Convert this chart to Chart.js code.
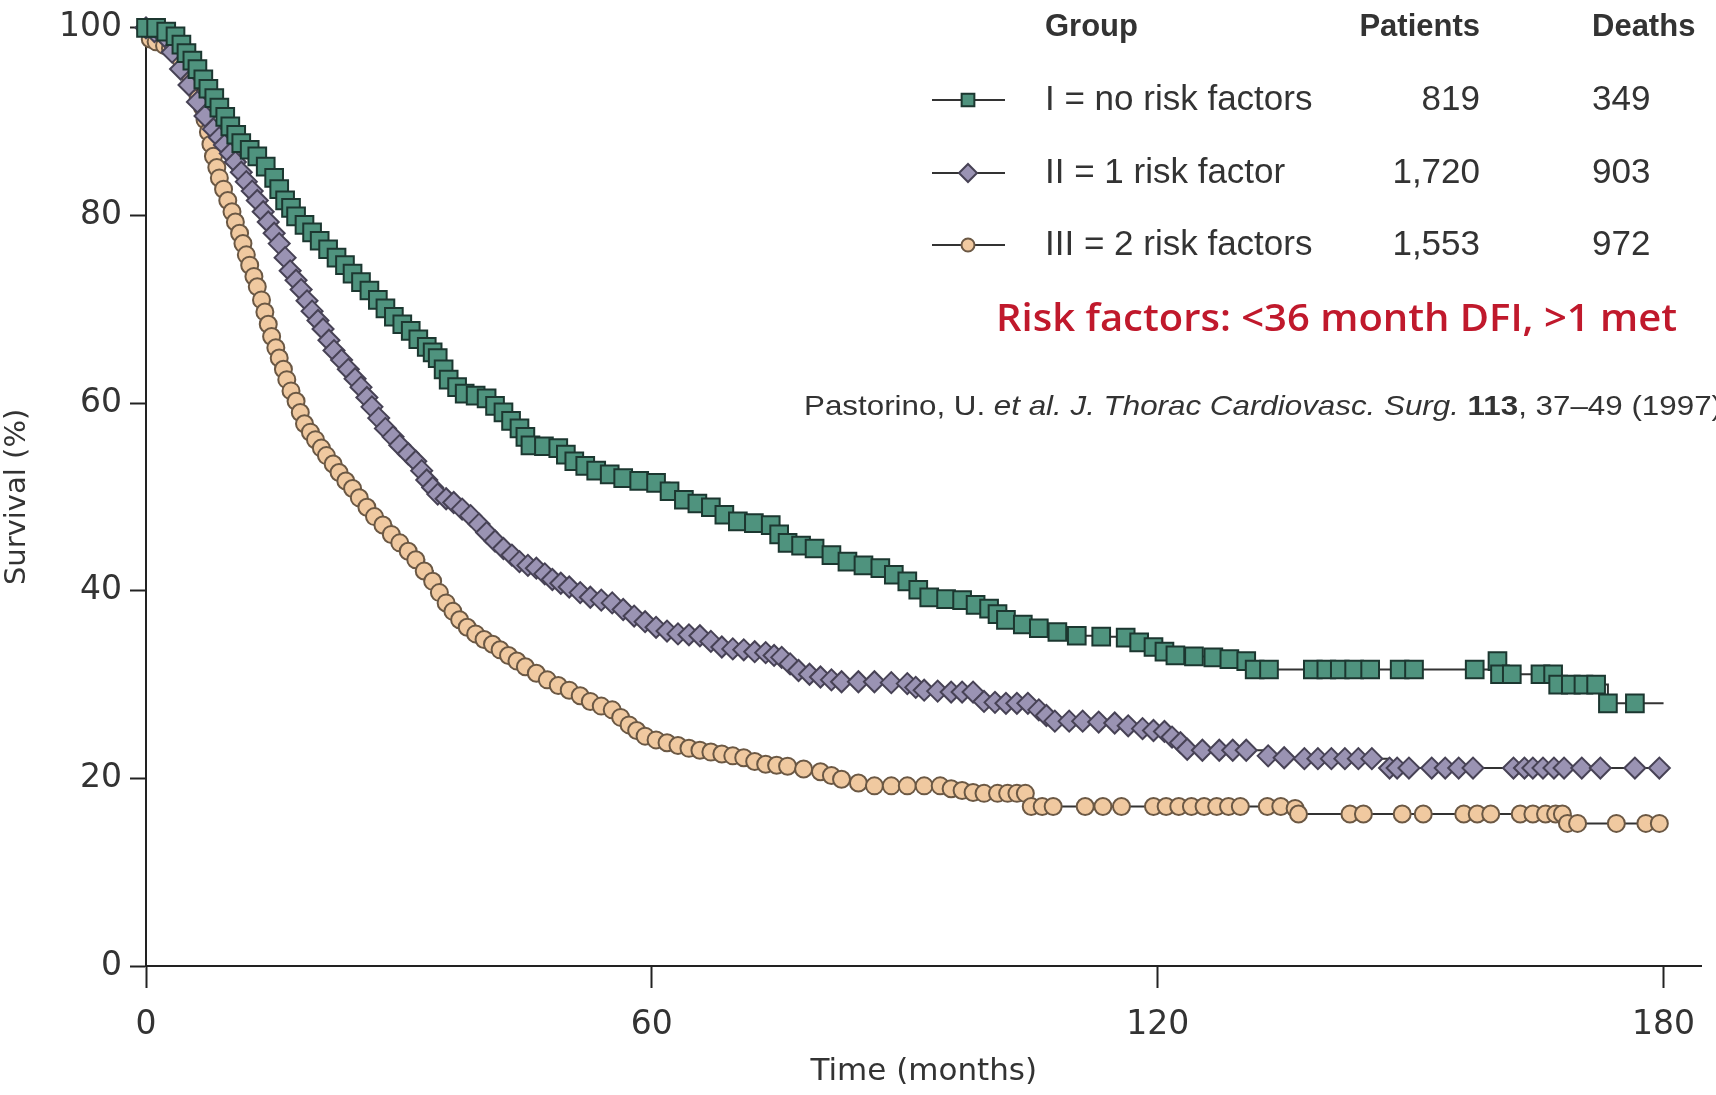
<!DOCTYPE html>
<html>
<head>
<meta charset="utf-8">
<title>Survival by risk group</title>
<script src="https://cdn.jsdelivr.net/npm/chart.js@4.4.1/dist/chart.umd.min.js"></script>
<style>
  html, body { margin: 0; padding: 0; background: #fff; }
  #chart { display: block; }
</style>
</head>
<body>
<canvas id="chart" width="1716" height="1095"></canvas>
<script>
// axis ticks
const xTicks = [0, 60, 120, 180];
const yTicks = [0, 20, 40, 60, 80, 100];

// legend table
const groupLabels = ['I = no risk factors', 'II = 1 risk factor', 'III = 2 risk factors'];
const patients = ['819', '1,720', '1,553'];
const deaths = ['349', '903', '972'];

// group I (no risk factors) - months / survival %
const monthsI = [0, 1.2, 2.4, 3.5, 4.2, 4.8, 5.5, 6.1, 6.8, 7.4, 8.1, 8.7, 9.4, 10.0, 10.7, 11.3, 12.3, 13.2, 14.2, 15.2,
  15.8, 16.5, 17.2, 17.8, 18.8, 19.7, 20.6, 21.6, 22.6, 23.6, 24.5, 25.5, 26.5, 27.5, 28.4, 29.4, 30.4, 31.4, 32.3, 33.3,
  34.0, 34.6, 35.3, 35.9, 36.9, 37.8, 39.1, 40.4, 41.4, 42.4, 43.3, 44.3, 45.0, 45.6, 47.2, 48.9, 49.8, 50.8, 52.1, 53.4,
  55.0, 56.6, 58.5, 60.5, 62.1, 63.8, 65.4, 67.0, 68.6, 70.2, 72.1, 74.1, 75.1, 76.1, 77.7, 79.3, 81.3, 83.2, 85.1, 87.1,
  88.7, 90.3, 91.6, 92.9, 94.9, 96.8, 98.4, 100.0, 101.0, 102.0, 104.0, 105.9, 108.1, 110.4, 113.3, 116.2, 117.8, 119.5,
  120.8, 122.1, 124.3, 126.6, 128.5, 130.5, 131.5, 133.2, 138.4, 140.0, 141.6, 143.3, 145.2, 148.7, 150.4, 157.6, 160.3,
  160.6, 162.0, 165.4, 166.9, 167.5, 169.0, 170.5, 172.0, 173.4, 176.6, 180];
const survivalI = [100, 100, 99.6, 99.1, 98.2, 97.3, 96.5, 95.6, 94.5, 93.5, 92.5, 91.5, 90.5, 89.5, 88.6, 87.7, 87.0, 86.3, 85.2, 84.0,
  82.8, 81.6, 80.8, 79.9, 79.0, 78.2, 77.3, 76.4, 75.5, 74.7, 73.8, 72.9, 72.0, 71.0, 70.1, 69.2, 68.4, 67.7, 66.8, 66.0,
  65.4, 64.8, 63.6, 62.5, 61.7, 61.0, 60.8, 60.5, 59.7, 59.0, 58.1, 57.3, 56.4, 55.5, 55.4, 55.2, 54.5, 53.8, 53.3, 52.8,
  52.4, 52.0, 51.7, 51.5, 50.6, 49.7, 49.3, 48.9, 48.1, 47.4, 47.2, 47.0, 46.0, 45.1, 44.8, 44.5, 43.8, 43.1, 42.7, 42.4,
  41.7, 41.0, 40.1, 39.3, 39.1, 39.0, 38.5, 38.1, 37.5, 36.9, 36.4, 36.0, 35.6, 35.2, 35.1, 35.0, 34.5, 34.0,
  33.5, 33.1, 33.0, 32.9, 32.7, 32.5, 31.6, 31.6, 31.6, 31.6, 31.6, 31.6, 31.6, 31.6, 31.6, 31.6, 32.5,
  31.1, 31.1, 31.1, 31.1, 30.0, 30.0, 30.0, 30.0, 28.0, 28.0, 28.0];

// group II (1 risk factor)
const monthsII = [0, 1.0, 2.2, 3.1, 4.1, 5.1, 6.1, 7.0, 8.0, 8.7, 9.3, 10.0, 10.6, 11.3, 11.9, 12.6, 13.2, 13.9, 14.5, 15.2,
  15.8, 16.5, 17.1, 17.8, 18.4, 19.1, 19.7, 20.4, 21.0, 21.7, 22.3, 23.2, 24.0, 24.8, 25.5, 26.2, 26.8, 27.6, 28.4, 29.3,
  30.1, 31.1, 32.0, 32.7, 33.3, 34.0, 34.6, 35.6, 36.5, 37.5, 38.5, 39.5, 40.4, 41.4, 42.4, 43.4, 44.3, 45.3, 46.3, 47.3,
  48.2, 49.2, 50.2, 51.5, 52.7, 54.0, 55.3, 56.6, 57.9, 59.2, 60.5, 61.8, 63.1, 64.4, 65.7, 67.0, 68.3, 69.6, 70.9, 72.2,
  73.5, 74.5, 75.4, 76.4, 77.4, 78.7, 80.0, 81.3, 82.5, 84.5, 86.4, 88.4, 90.3, 91.3, 92.3, 93.9, 95.5, 96.8, 98.1, 99.4,
  100.7, 102.0, 103.3, 104.6, 105.9, 106.8, 107.8, 109.5, 111.1, 113.0, 114.9, 116.5, 118.2, 119.5, 120.8, 121.7, 122.7,
  123.5, 125.3, 127.3, 128.9, 130.5, 133.1, 135.0, 137.4, 139.0, 140.6, 142.2, 143.8, 145.4, 147.5, 148.4, 149.8, 152.5,
  154.1, 155.7, 157.4, 162.2, 163.5, 164.5, 165.7, 167.0, 168.2, 170.3, 172.5, 176.6, 179.5];
const survivalII = [100, 99.6, 99.1, 97.4, 95.6, 93.9, 92.1, 90.6, 89.2, 88.3, 87.5, 86.6, 85.7, 84.6, 83.6, 82.6, 81.6, 80.4, 79.3, 78.1,
  77.0, 75.5, 74.1, 73.1, 72.1, 70.9, 69.8, 68.8, 67.9, 66.7, 65.6, 64.6, 63.6, 62.6, 61.7, 60.6, 59.6, 58.4, 57.3, 56.4,
  55.5, 54.6, 53.8, 52.8, 51.8, 51.0, 50.3, 49.8, 49.4, 48.7, 48.0, 47.1, 46.2, 45.3, 44.5, 43.8, 43.1, 42.7, 42.4, 41.8,
  41.2, 40.8, 40.4, 39.8, 39.3, 39.0, 38.7, 38.0, 37.3, 36.7, 36.1, 35.7, 35.4, 35.3, 35.2, 34.6, 34.0, 33.8, 33.7, 33.5,
  33.4, 33.1, 32.9, 32.2, 31.5, 31.1, 30.8, 30.5, 30.3, 30.3, 30.3, 30.2, 30.1, 29.7, 29.4, 29.3, 29.2, 29.2, 29.2, 28.2,
  28.1, 28.0, 28.0, 28.0, 27.3, 26.7, 26.1, 26.1, 26.1, 26.0, 25.9, 25.6, 25.3, 25.1, 25.0, 24.4, 23.8,
  23.1, 23.0, 23.0, 23.0, 23.0, 22.4, 22.2, 22.1, 22.1, 22.1, 22.1, 22.1, 22.1, 21.1, 21.1, 21.1, 21.1,
  21.1, 21.1, 21.1, 21.1, 21.1, 21.1, 21.1, 21.1, 21.1, 21.1, 21.1, 21.1, 21.1];

// group III (2 risk factors)
const monthsIII = [0, 0.5, 1.2, 2.2, 2.9, 3.5, 4.2, 4.8, 5.3, 5.8, 6.2, 6.7, 7.0, 7.4, 7.7, 8.0, 8.4, 8.7, 9.2, 9.7,
  10.2, 10.6, 11.1, 11.5, 11.9, 12.3, 12.8, 13.2, 13.7, 14.1, 14.5, 14.9, 15.4, 15.8, 16.3, 16.7, 17.2, 17.8, 18.3, 18.8,
  19.5, 20.1, 20.8, 21.4, 22.2, 22.9, 23.7, 24.5, 25.3, 26.2, 27.1, 28.1, 29.1, 30.1, 31.1, 32.0, 33.0, 34.0, 34.8, 35.6,
  36.4, 37.2, 38.1, 39.1, 40.1, 41.1, 42.0, 43.0, 44.0, 45.0, 46.3, 47.6, 48.9, 50.2, 51.5, 52.7, 54.0, 55.3, 56.3, 57.3,
  58.2, 59.2, 60.5, 61.8, 63.1, 64.4, 65.7, 67.0, 68.3, 69.6, 70.9, 72.2, 73.5, 74.8, 76.1, 78.0, 80.0, 81.3, 82.5, 84.5,
  86.4, 88.4, 90.3, 92.3, 94.2, 95.5, 96.8, 98.1, 99.4, 101.0, 102.2, 103.3, 104.3, 105.0, 106.3, 107.6, 111.4, 113.5,
  115.7, 119.5, 121.0, 122.5, 124.0, 125.5, 127.0, 128.4, 129.8, 133.0, 134.6, 136.3, 136.7, 142.8, 144.4, 149.0, 151.5,
  156.3, 157.9, 159.5, 163.0, 164.5, 166.0, 167.2, 168.0, 168.6, 169.8, 174.4, 177.9, 179.5];
const survivalIII = [100, 98.8, 98.5, 98.1, 97.8, 97.3, 96.5, 95.6, 94.6, 93.5, 92.5, 91.5, 90.2, 88.9, 87.6, 86.3, 85.1, 84.0, 82.8, 81.6,
  80.4, 79.3, 78.1, 77.0, 75.8, 74.7, 73.5, 72.4, 71.0, 69.7, 68.4, 67.1, 65.9, 64.8, 63.6, 62.5, 61.3, 60.2, 59.0, 57.8,
  56.9, 56.1, 55.2, 54.4, 53.5, 52.6, 51.7, 50.9, 49.9, 48.9, 47.9, 47.0, 46.0, 45.1, 44.2, 43.3, 42.1, 41.0, 39.8, 38.7,
  37.8, 36.9, 36.1, 35.4, 34.8, 34.3, 33.7, 33.1, 32.5, 31.9, 31.2, 30.5, 29.9, 29.4, 28.8, 28.2, 27.7, 27.3, 26.5, 25.7,
  25.1, 24.5, 24.1, 23.8, 23.5, 23.2, 23.0, 22.8, 22.6, 22.4, 22.2, 21.8, 21.5, 21.4, 21.3, 21.0, 20.7, 20.3, 19.9, 19.5,
  19.2, 19.2, 19.2, 19.2, 19.2, 18.9, 18.7, 18.5, 18.4, 18.4, 18.4, 18.4, 18.4, 17.0, 17.0, 17.0, 17.0, 17.0,
  17.0, 17.0, 17.0, 17.0, 17.0, 17.0, 17.0, 17.0, 17.0, 17.0, 17.0, 16.8, 16.2, 16.2, 16.2, 16.2, 16.2,
  16.2, 16.2, 16.2, 16.2, 16.2, 16.2, 16.2, 16.2, 15.2, 15.2, 15.2, 15.2, 15.2];

const toPoints = (xs, ys) => xs.map((x, i) => ({ x: x, y: ys[i] }));

const styles = [
  { pointStyle: 'rect', radius: 12.5, legendRadius: 9, fill: '#4f937e', border: '#1c3730' },
  { pointStyle: 'rectRot', radius: 10.5, legendRadius: 9, fill: '#9a93b3', border: '#474255' },
  { pointStyle: 'circle', radius: 8.5, legendRadius: 6.5, fill: '#f0c9a0', border: '#6b5844' }
];

Chart.defaults.font.family = '"DejaVu Sans", sans-serif';
Chart.defaults.color = '#333';

// table legend, red note and citation
const annotations = {
  id: 'annotations',
  afterDraw(chart) {
    const ctx = chart.ctx;
    ctx.save();
    ctx.textBaseline = 'middle';
    ctx.fillStyle = '#333';

    ctx.font = 'bold 31px "Liberation Sans"';
    ctx.textAlign = 'left';
    ctx.fillText('Group', 1045, 27);
    ctx.textAlign = 'right';
    ctx.fillText('Patients', 1480, 27);
    ctx.textAlign = 'left';
    ctx.fillText('Deaths', 1592, 27);

    const rowsY = [100, 173, 245];
    ctx.font = '35px "Liberation Sans"';
    groupLabels.forEach((g, i) => {
      const y = rowsY[i];
      const s = styles[i];
      ctx.strokeStyle = '#333';
      ctx.lineWidth = 2;
      ctx.beginPath();
      ctx.moveTo(932, y);
      ctx.lineTo(1005, y);
      ctx.stroke();
      ctx.fillStyle = s.fill;
      ctx.strokeStyle = s.border;
      ctx.lineWidth = 2;
      Chart.helpers.drawPoint(ctx, { pointStyle: s.pointStyle, radius: s.legendRadius, rotation: 0, borderWidth: 2 }, 968, y);

      ctx.fillStyle = '#333';
      ctx.textAlign = 'left';
      ctx.fillText(g, 1045, y);
      ctx.textAlign = 'right';
      ctx.fillText(patients[i], 1480, y);
      ctx.textAlign = 'left';
      ctx.fillText(deaths[i], 1592, y);
    });

    // red note
    ctx.fillStyle = '#c0192c';
    ctx.font = '600 38px "Open Sans"';
    ctx.textAlign = 'left';
    const note = 'Risk factors: <36 month DFI, >1 met';
    const nw = ctx.measureText(note).width;
    ctx.save();
    ctx.translate(996, 320);
    ctx.scale(681 / nw, 1);
    ctx.fillText(note, 0, 0);
    ctx.restore();

    // citation (runs off the right edge like the source)
    const parts = [
      ['Pastorino, U. ', '28px "Liberation Sans"'],
      ['et al. J. Thorac Cardiovasc. Surg. ', 'italic 28px "Liberation Sans"'],
      ['113', 'bold 28px "Liberation Sans"'],
      [', 37\u201349 (1997)', '28px "Liberation Sans"']
    ];
    let total = 0;
    parts.forEach(p => { ctx.font = p[1]; total += ctx.measureText(p[0]).width; });
    const k = 918 / total;
    ctx.save();
    ctx.translate(804, 407);
    ctx.scale(k, 1);
    ctx.fillStyle = '#333';
    let cx = 0;
    parts.forEach(p => {
      ctx.font = p[1];
      ctx.fillText(p[0], cx, 0);
      cx += ctx.measureText(p[0]).width;
    });
    ctx.restore();
    ctx.restore();
  }
};

const datasets = [
  { label: groupLabels[0], xs: monthsI, ys: survivalI },
  { label: groupLabels[1], xs: monthsII, ys: survivalII },
  { label: groupLabels[2], xs: monthsIII, ys: survivalIII }
].map((d, i) => ({
  label: d.label,
  data: toPoints(d.xs, d.ys),
  stepped: true,
  borderColor: '#333',
  borderWidth: 2,
  pointStyle: styles[i].pointStyle,
  pointRadius: c => (i === 0 && c.dataIndex === d.xs.length - 1) ? 0 : styles[i].radius,
  pointBackgroundColor: styles[i].fill,
  pointBorderColor: styles[i].border,
  pointBorderWidth: 2,
  clip: false,
  fill: false
}));

new Chart(document.getElementById('chart').getContext('2d'), {
  type: 'line',
  data: { datasets: datasets },
  options: {
    responsive: false,
    animation: false,
    devicePixelRatio: 1,
    layout: { padding: { top: 24, right: 12, left: 0, bottom: 0 } },
    plugins: { legend: { display: false }, tooltip: { enabled: false } },
    scales: {
      x: {
        type: 'linear',
        min: 0,
        max: 184.5,
        afterBuildTicks: axis => { axis.ticks = xTicks.map(v => ({ value: v })); },
        afterFit: scale => { scale.height = 129; },
        border: { color: '#222', width: 2 },
        grid: { drawOnChartArea: false, tickLength: 22, tickColor: '#222', tickWidth: 2 },
        ticks: { font: { size: 33 }, color: '#333', padding: 18, maxRotation: 0 },
        title: { display: true, text: 'Time (months)', font: { size: 31 }, color: '#333', padding: { top: 4 } }
      },
      y: {
        min: 0,
        max: 100,
        afterBuildTicks: axis => { axis.ticks = yTicks.map(v => ({ value: v })); },
        afterFit: scale => { scale.width = 146; },
        border: { color: '#222', width: 2 },
        grid: { drawOnChartArea: false, tickLength: 16, tickColor: '#222', tickWidth: 2 },
        ticks: { font: { size: 33 }, color: '#333', padding: 8 },
        title: { display: true, text: 'Survival (%)', font: { size: 29 }, color: '#333', padding: { top: 0, bottom: 0 } }
      }
    }
  },
  plugins: [annotations]
});
</script>
</body>
</html>
